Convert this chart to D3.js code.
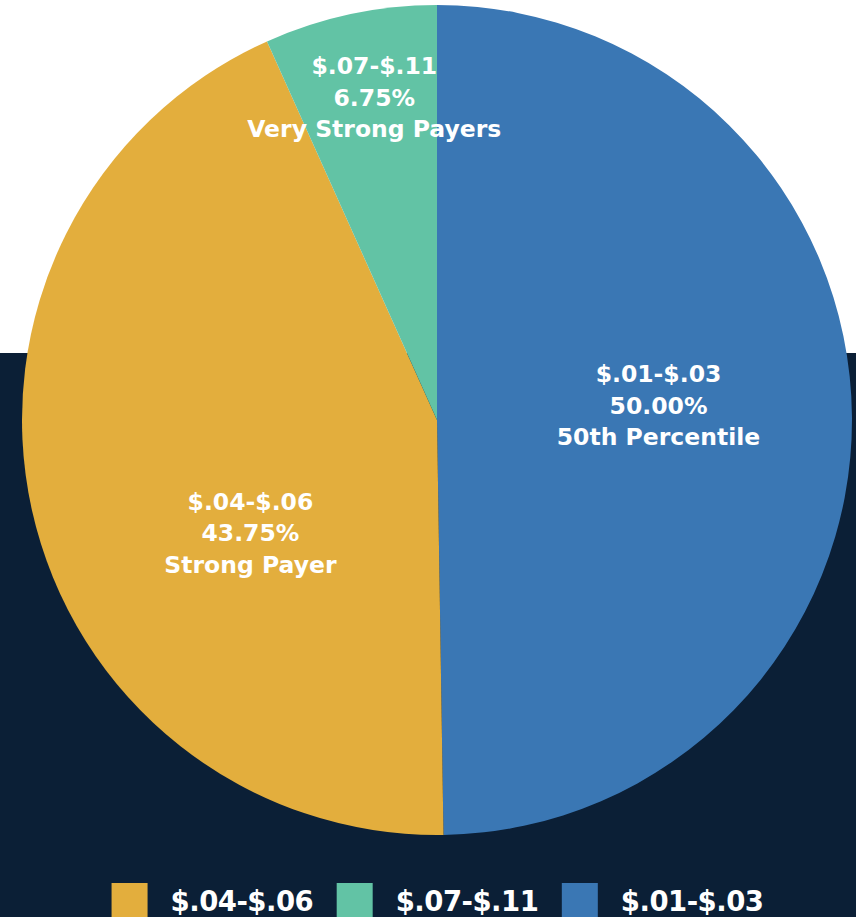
<!DOCTYPE html>
<html>
<head>
<meta charset="utf-8">
<script src="https://cdn.jsdelivr.net/npm/d3@7"></script>
<style>
  html, body { margin: 0; padding: 0; background: #ffffff; }
  svg { display: block; }
  text { font-family: "DejaVu Sans", sans-serif; font-weight: bold; fill: #ffffff; }
</style>
</head>
<body>
<svg id="chart" width="856" height="917"></svg>
<script>
// Payment-rate tiers and their share of the total
const categories = ["$.01-$.03", "$.04-$.06", "$.07-$.11"];
const shares = [50.00, 43.75, 6.75];
const tiers = ["50th Percentile", "Strong Payer", "Very Strong Payers"];
const legendOrder = ["$.04-$.06", "$.07-$.11", "$.01-$.03"];

const W = 856, H = 917;
const cx = 437, cy = 420, radius = 415;

const colors = d3.scaleOrdinal()
  .domain(categories)
  .range(["#3a77b4", "#e3ae3d", "#62c3a5"]);

// label placement: radius and a small angular nudge (degrees) per slice
const labelStyle = {
  "$.01-$.03": { r: 222, nudge: -3.4 },
  "$.04-$.06": { r: 218, nudge: -18.6 },
  "$.07-$.11": { r: 329, nudge: 1.1 }
};

const svg = d3.select("#chart");

// backdrop: white upper band, navy lower band
svg.append("rect").attr("x", 0).attr("y", 0).attr("width", W).attr("height", H).attr("fill", "#ffffff");
svg.append("rect").attr("x", 0).attr("y", 353).attr("width", W).attr("height", H - 353).attr("fill", "#0b1f36");

const data = categories.map((c, i) => ({ category: c, share: shares[i], tier: tiers[i] }));

const pie = d3.pie().sort(null).value(d => d.share).startAngle(0).endAngle(2 * Math.PI);
const arcs = pie(data);
const arc = d3.arc().innerRadius(0).outerRadius(radius);

const g = svg.append("g").attr("transform", `translate(${cx},${cy})`);

g.selectAll("path.slice")
  .data(arcs)
  .join("path")
  .attr("class", "slice")
  .attr("d", arc)
  .attr("fill", d => colors(d.data.category));

// slice labels: range, share, tier name
const lineGap = 31.5;
const labels = g.selectAll("g.label")
  .data(arcs)
  .join("g")
  .attr("class", "label")
  .attr("transform", d => {
    const st = labelStyle[d.data.category];
    const a = (d.startAngle + d.endAngle) / 2 + st.nudge * Math.PI / 180;
    return `translate(${st.r * Math.sin(a)},${-st.r * Math.cos(a)})`;
  });

labels.each(function(d) {
  const lines = [d.data.category, d3.format(".2f")(d.data.share) + "%", d.data.tier];
  d3.select(this).selectAll("text")
    .data(lines)
    .join("text")
    .attr("text-anchor", "middle")
    .attr("font-size", 23.5)
    .attr("y", (t, i) => (i - 1) * lineGap + 8.5)
    .text(t => t);
});

// legend along the bottom, centred under the pie
const legend = svg.append("g");
const sw = 36, textPad = 23, itemGap = 23.5;
const items = legend.selectAll("g.item")
  .data(legendOrder)
  .join("g")
  .attr("class", "item");

items.append("rect")
  .attr("width", sw)
  .attr("height", 36)
  .attr("y", 883)
  .attr("fill", d => colors(d));

items.append("text")
  .attr("x", sw + textPad)
  .attr("y", 911)
  .attr("font-size", 27.5)
  .attr("letter-spacing", -0.5)
  .text(d => d);

let x = 0;
const widths = [];
items.each(function() {
  const w = sw + textPad + d3.select(this).select("text").node().getComputedTextLength();
  widths.push(w);
});
const total = d3.sum(widths) + itemGap * (widths.length - 1);
x = cx + 0.5 - total / 2;
items.attr("transform", (d, i) => {
  const tx = x;
  x += widths[i] + itemGap;
  return `translate(${tx},0)`;
});
</script>
</body>
</html>
